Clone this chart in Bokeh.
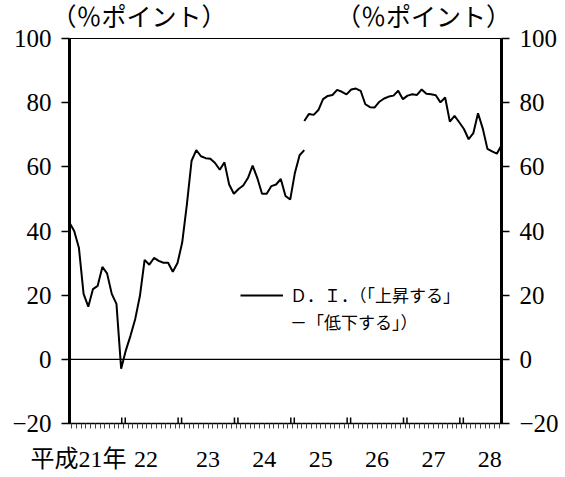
from bokeh.plotting import figure
from bokeh.models import (LinearAxis, FixedTicker, Span, Legend, LegendItem,
                          Range1d, CustomJSTickFormatter)
from bokeh.embed import file_html
from bokeh.resources import INLINE

# ---- data -------------------------------------------------------------
year_labels = ["平成21年", "22", "23", "24", "25", "26", "27", "28"]
y_ticks = [-20, 0, 20, 40, 60, 80, 100]

# monthly D.I., Jan 2009 (H21) .. Mar 2013 (old survey method)
di_old = [42.6, 40.0, 34.8, 20.4, 16.4, 21.9, 22.9, 28.8, 26.8, 20.4, 17.3, -2.9,
          2.8, 7.4, 12.6, 19.8, 31.0, 29.5, 31.6, 30.7, 30.1, 30.1, 27.3, 30.0,
          36.4, 48.3, 61.9, 65.2, 63.3, 62.7, 62.5, 61.2, 59.1, 61.4, 54.5, 51.6,
          53.1, 54.2, 56.5, 60.4, 56.5, 51.6, 51.6, 54.0, 54.5, 56.2, 50.9, 49.8,
          58.1, 63.6, 65.2]
# monthly D.I., Mar 2013 .. Sep 2016 (new survey method)
di_new = [74.3, 76.5, 76.2, 77.7, 81.1, 82.1, 82.4, 84.0, 83.4, 82.6, 84.1, 84.4, 83.7,
          79.5, 78.6, 78.5, 80.3, 81.3, 81.9, 82.2, 83.7, 81.1, 82.2, 82.6, 82.4, 84.1,
          82.8, 82.6, 82.3, 80.1, 81.6, 74.1, 75.9, 73.9, 71.8, 68.6, 70.5, 76.7, 72.0,
          65.6, 64.8, 64.1, 66.7]
break_month = 50          # index of Mar 2013 (month 0 = Jan 2009)
legend_lines = ["Ｄ．Ｉ．（「上昇する」", "－「低下する」）"]
unit_labels = ["（％ポイント）", "（％ポイント）"]

# ---- derived positions ------------------------------------------------
x_old = list(range(len(di_old)))
x_new = list(range(break_month, break_month + len(di_new)))
last = x_new[-1]
year_bounds = [11.5 + 12 * k for k in range(7)]
dbl_x = [b + d for b in year_bounds for d in (-0.37, 0.37)]
month_ticks = [m + 0.5 for m in range(last)]
label_pos = [5.5 + 12 * k for k in range(len(year_labels))]
label_pos[0] -= 3.6
label_pos[1] -= 1.2
unit_pos = [14.8, 75.4]

SERIF = "Liberation Serif, Noto Sans CJK JP"
JP = "Noto Sans CJK JP"

p = figure(width=565, height=477, x_range=Range1d(0, last), y_range=Range1d(-20, 100),
           output_backend="svg", toolbar_location=None, tools="",
           x_axis_location=None, y_axis_location=None,
           min_border_left=69, min_border_right=64, min_border_top=36, min_border_bottom=54,
           border_fill_color="white", background_fill_color="white")
p.grid.visible = False
p.outline_line_color = "black"
p.outline_line_width = 1

yfmt = CustomJSTickFormatter(code="return tick < 0 ? '\u2212' + Math.abs(tick) : String(tick)")


def yaxis():
    return LinearAxis(ticker=FixedTicker(ticks=y_ticks, minor_ticks=[]), formatter=yfmt,
                      axis_line_width=3, major_tick_in=0, major_tick_out=8,
                      major_tick_line_width=1.5, minor_tick_line_color=None,
                      major_label_standoff=10, major_label_text_font=SERIF,
                      major_label_text_font_size="25px", major_label_text_color="black")


p.add_layout(yaxis(), "left")
p.add_layout(yaxis(), "right")

# bottom axis: monthly minor ticks below, year labels
ax_b = LinearAxis(ticker=FixedTicker(ticks=label_pos, minor_ticks=month_ticks),
                  formatter=CustomJSTickFormatter(args=dict(labels=year_labels),
                                                  code="return labels[index]"),
                  axis_line_width=1.5, major_tick_line_color=None,
                  major_tick_in=0, major_tick_out=0,
                  minor_tick_in=0, minor_tick_out=5, minor_tick_line_width=1,
                  minor_tick_line_color="#444444",
                  major_label_standoff=17, major_label_text_font=SERIF,
                  major_label_text_font_size="24px", major_label_text_color="black")
p.add_layout(ax_b, "below")

# top axis carrying the unit labels
ax_t = LinearAxis(ticker=FixedTicker(ticks=unit_pos, minor_ticks=[]),
                  formatter=CustomJSTickFormatter(args=dict(labels=unit_labels),
                                                  code="return labels[index]"),
                  axis_line_color=None, major_tick_line_color=None,
                  minor_tick_line_color=None, major_tick_in=0, major_tick_out=0,
                  major_label_standoff=8, major_label_text_font=SERIF,
                  major_label_text_font_size="25px", major_label_text_color="black")
p.add_layout(ax_t, "above")

# year boundary double ticks on the bottom axis
p.segment(x0=dbl_x, y0=[-20] * len(dbl_x), x1=dbl_x, y1=[-18.1] * len(dbl_x),
          line_color="black", line_width=1.5)

p.add_layout(Span(location=0, dimension="width", line_color="black", line_width=1.2))

r_old = p.line(x_old, di_old, line_color="black", line_width=2)
r_new = p.line(x_new, di_new, line_color="black", line_width=2)
dummy = p.line([], [], line_alpha=0)

legend = Legend(items=[LegendItem(label=legend_lines[0], renderers=[r_old]),
                       LegendItem(label=legend_lines[1], renderers=[dummy])],
                location=(171, 89), orientation="vertical", padding=0, margin=0,
                spacing=2, glyph_width=43, glyph_height=20, label_height=20,
                label_standoff=7, label_text_font=JP, label_text_font_size="17px",
                label_text_color="black",
                border_line_color=None, background_fill_alpha=0)
p.add_layout(legend)

open("out.html", "w").write(file_html(p, INLINE))
